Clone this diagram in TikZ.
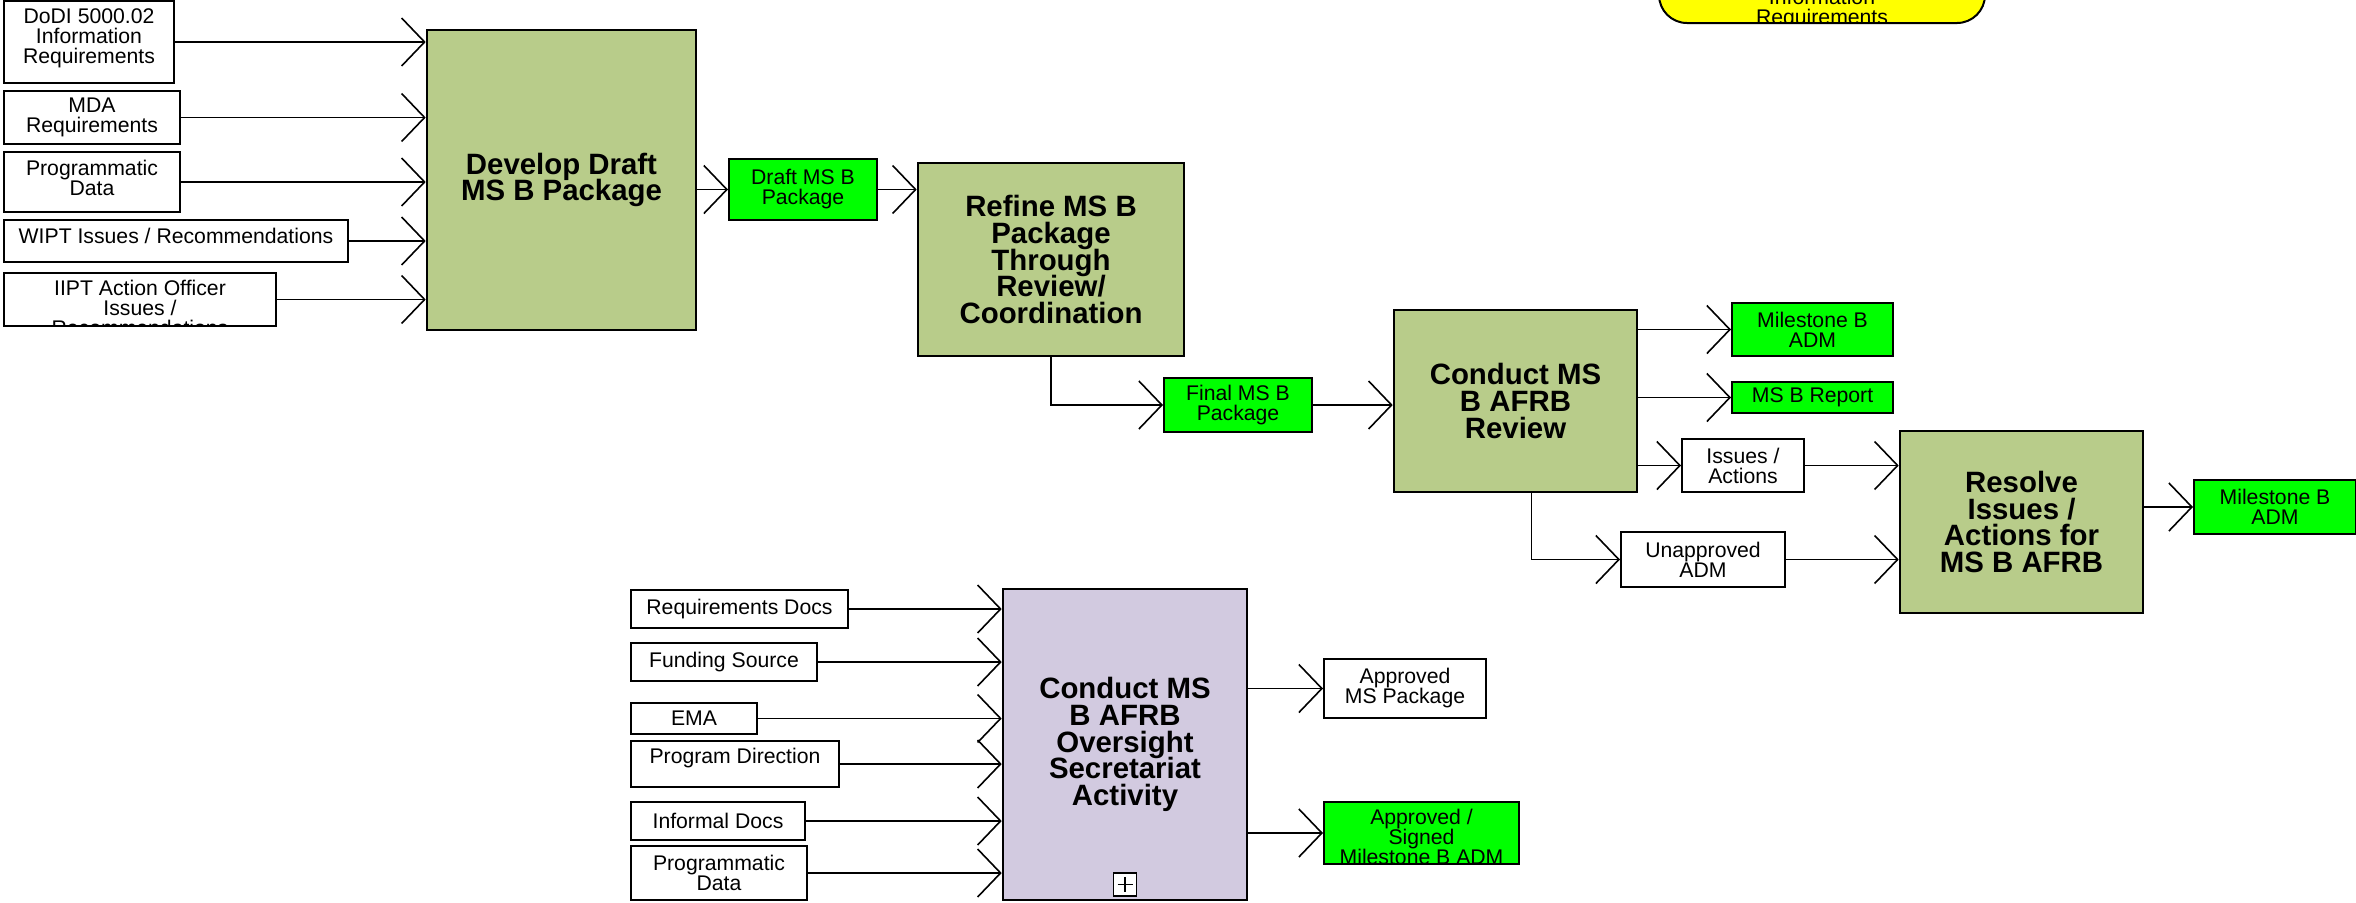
\documentclass[tikz,border=0pt]{standalone}
\usepackage{fontspec}
\setmainfont{Liberation Sans}
\usetikzlibrary{arrows.meta}
\definecolor{sage}{HTML}{B8CC8A}
\definecolor{lime}{HTML}{00FF00}
\definecolor{lilac}{HTML}{D2CAE0}
\definecolor{lemon}{HTML}{FFFF00}
\newcommand\tightlines{\lineskiplimit=-20pt\relax}

\tikzset{
  smalltxt/.style={font=\fontsize{10.6}{10}\selectfont\tightlines},
  item/.style={draw,line width=1pt,fill=white,inner sep=0pt,align=center,smalltxt},
  prod/.style={item,fill=lime},
  activity/.style={draw,line width=1.3pt,fill=sage,inner sep=0pt,align=center,
    font=\fontsize{14.7}{13.3}\selectfont\bfseries\tightlines},
  intext/.style={draw=none,fill=none,align=center,inner sep=0pt,
    minimum width=0pt,minimum height=0pt,smalltxt},
  topped/.style 2 args={path picture={
    \node[intext,anchor=north] at ([yshift=-#1]path picture bounding box.north) {#2};}},
  flow/.style={line width=0.8pt,-{Straight Barb[length=11.5pt,width=24pt]}},
}

\begin{document}
\begin{tikzpicture}[x=0.5pt,y=-0.5pt]
  \useasboundingbox (0,0) rectangle (2356,902);

  % upper chain
  \node[item,minimum width=85pt,minimum height=41pt,topped={3.5pt}{DoDI 5000.02\\Information\\Requirements}] (dodi) at (89,42) {};
  \node[item,minimum width=88pt,minimum height=26.5pt] (mda) at (92,117.5) {MDA\\Requirements};
  \node[item,minimum width=88pt,minimum height=30pt,topped={3.5pt}{Programmatic\\Data}] (proga) at (92,182) {};
  \node[item,minimum width=172pt,minimum height=21pt,topped={3.5pt}{WIPT Issues / Recommendations}] (wipt) at (176,241) {};
  \node[item,minimum width=136pt,minimum height=26.5pt,topped={3pt}{IIPT Action Officer\\Issues /\\Recommendations}] (iipt) at (140,299.5) {};

  \node[activity,minimum width=134.5pt,minimum height=150pt] (develop) at (561.5,180) {Develop Draft\\MS B Package};
  \node[prod,minimum width=74pt,minimum height=30.5pt] (draft) at (803,189.5) {Draft MS B\\Package};
  \node[activity,minimum width=133pt,minimum height=96.5pt] (refine) at (1051,259.5) {Refine MS B\\Package\\Through\\Review/\\Coordination};
  \node[prod,minimum width=74pt,minimum height=27pt] (final) at (1238,405) {Final MS B\\Package};
  \node[activity,minimum width=121.5pt,minimum height=91pt] (review) at (1515.5,401) {Conduct MS\\B AFRB\\Review};

  \node[prod,minimum width=80.5pt,minimum height=26.5pt] (mileone) at (1812.5,329.5) {Milestone B\\ADM};
  \node[prod,minimum width=80.5pt,minimum height=15.5pt] (report) at (1812.5,397.5) {MS B Report};
  \node[item,minimum width=61pt,minimum height=26.5pt] (issues) at (1743,465.5) {Issues /\\Actions};
  \node[item,minimum width=82pt,minimum height=27.5pt] (unapproved) at (1703,559.5) {Unapproved\\ADM};
  \node[activity,minimum width=121.5pt,minimum height=91pt] (resolve) at (2021.5,522) {Resolve\\Issues /\\Actions for\\MS B AFRB};
  \node[prod,minimum width=81pt,minimum height=27pt] (miletwo) at (2275,507) {Milestone B\\ADM};

  \node[draw,line width=1pt,fill=lemon,rounded corners=14pt,minimum width=163pt,minimum height=40pt,
    path picture={\node[intext,anchor=south] at ([yshift=-3.5pt]path picture bounding box.south) {Information\\Requirements};}]
    (inforeq) at (1822,-17) {};

  % lower group
  \node[item,minimum width=108.5pt,minimum height=19pt] (reqdocs) at (739.5,609) {Requirements Docs};
  \node[item,minimum width=93pt,minimum height=19pt] (funding) at (724,662) {Funding Source};
  \node[item,minimum width=63pt,minimum height=15.5pt] (ema) at (694,718.5) {EMA};
  \node[item,minimum width=104pt,minimum height=23pt,topped={3pt}{Program Direction}] (progdir) at (735,764) {};
  \node[item,minimum width=87pt,minimum height=19pt] (informal) at (718,821) {Informal Docs};
  \node[item,minimum width=88pt,minimum height=27pt] (progb) at (719,873) {Programmatic\\Data};

  \node[activity,fill=lilac,minimum width=122pt,minimum height=155.5pt] (oversight) at (1125,744.5) {Conduct MS\\B AFRB\\Oversight\\Secretariat\\Activity};
  \node[draw,line width=0.7pt,fill=white,minimum size=11.5pt,inner sep=0pt,
    path picture={\draw[line width=0.6pt]
      ([yshift=-2pt]path picture bounding box.north) -- ([yshift=2pt]path picture bounding box.south)
      ([xshift=2pt]path picture bounding box.west) -- ([xshift=-2pt]path picture bounding box.east);}]
    (expand) at ([yshift=8.5pt]oversight.south) {};
  \node[item,minimum width=81pt,minimum height=29.5pt] (approvedpkg) at (1405,688.5) {Approved\\MS Package};
  \node[prod,minimum width=97.5pt,minimum height=31pt,topped={3pt}{Approved /\\Signed\\Milestone B ADM}] (signed) at (1421.5,833) {};

  % connectors
  \foreach \src in {dodi,mda,proga,wipt,iipt}
    \draw[flow] (\src.east) -- (\src.east -| develop.west);
  \draw[flow] (draft.west -| develop.east) -- (draft.west);
  \draw[flow] (draft.east) -- (draft.east -| refine.west);
  \draw[flow] (refine.south) |- (final.west);
  \draw[flow] (final.east) -- (final.east -| review.west);
  \foreach \dst in {mileone,report,issues}
    \draw[flow] (\dst.west -| review.east) -- (\dst.west);
  \draw[flow] (issues.east) -- (issues.east -| resolve.west);
  \draw[flow] ([xshift=8pt]review.south) |- (unapproved.west);
  \draw[flow] (unapproved.east) -- (unapproved.east -| resolve.west);
  \draw[flow] (miletwo.west -| resolve.east) -- (miletwo.west);

  \foreach \src in {reqdocs,funding,ema,progdir,informal,progb}
    \draw[flow] (\src.east) -- (\src.east -| oversight.west);
  \draw[flow] (approvedpkg.west -| oversight.east) -- (approvedpkg.west);
  \draw[flow] (signed.west -| oversight.east) -- (signed.west);
\end{tikzpicture}
\end{document}
